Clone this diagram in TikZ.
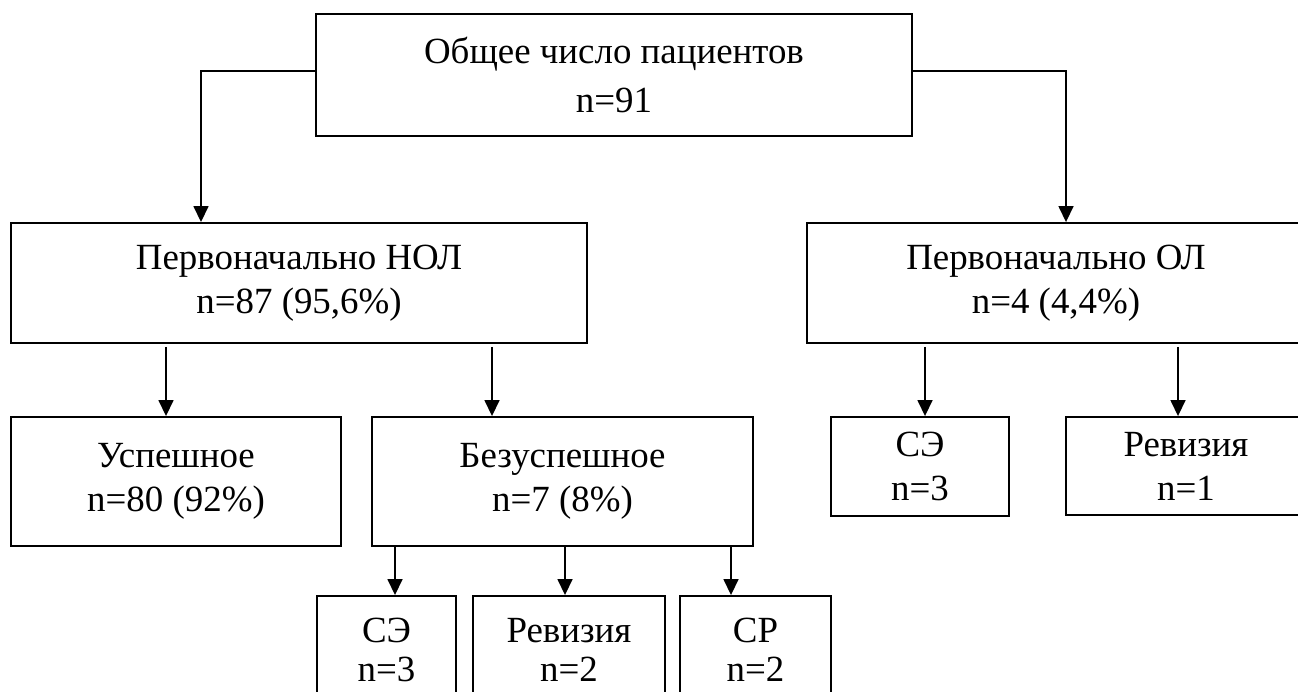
\documentclass[tikz,border=0pt]{standalone}
\usepackage{fontspec}
\setmainfont{Liberation Serif}
\usepackage{tikz}
\usetikzlibrary{arrows.meta,calc}

\begin{document}
\begin{tikzpicture}[x=0.02cm, y=-0.02cm, font=\fontsize{21}{25}\selectfont,
    >={Triangle[length=0.32cm,width=0.3cm]},
    box/.style={draw, line width=1.1pt, align=center, inner sep=0pt},
    arr/.style={->, line width=0.9pt}]
    \useasboundingbox (0,0) rectangle (1298,691);
    % top level
    \node[box, minimum width=11.92cm, minimum height=2.44cm] (total) at (614,75)
      {Общее число пациентов\\[3pt] n=91};
    \node[box, minimum width=11.52cm, minimum height=2.40cm] (nol) at (299,283)
      {Первоначально НОЛ\\ n=87 (95,6\%)};
    \node[box, minimum width=9.96cm, minimum height=2.40cm] (ol) at (1056,283)
      {Первоначально ОЛ\\ n=4 (4,4\%)};
    % outcomes
    \node[box, minimum width=6.60cm, minimum height=2.58cm] (usp) at (176,481.5)
      {Успешное\\ n=80 (92\%)};
    \node[box, minimum width=7.62cm, minimum height=2.58cm] (bez) at (562.5,481.5)
      {Безуспешное\\ n=7 (8\%)};
    \node[box, minimum width=3.56cm, minimum height=1.98cm] (se2) at (920,466.5)
      {СЭ\\ n=3};
    \node[box, minimum width=4.80cm, minimum height=1.96cm] (rev2) at (1186,466)
      {Ревизия\\ n=1};
    % after failure
    \node[box, minimum width=2.78cm, minimum height=2.16cm] (se1) at (386.5,650)
      {СЭ\\[-3pt] n=3};
    \node[box, minimum width=3.84cm, minimum height=2.16cm] (rev1) at (569,650)
      {Ревизия\\[-3pt] n=2};
    \node[box, minimum width=3.02cm, minimum height=2.16cm] (sr) at (755.5,650)
      {СР\\[-3pt] n=2};

    \draw[arr] ($(total.west)+(0,-4)$) -| ($(nol.north)+(-98,0)$);
    \draw[arr] ($(total.east)+(0,-4)$) -| ($(ol.north)+(10,0)$);
    \draw[arr, shorten <=0.06cm] ($(nol.south)+(-133,0)$) -- ($(usp.north)+(-10,0)$);
    \draw[arr, shorten <=0.06cm] ($(nol.south)+(193,0)$) -- ($(bez.north)+(-70.5,0)$);
    \draw[arr, shorten <=0.06cm] ($(ol.south)+(-131,0)$) -- ($(se2.north)+(5,0)$);
    \draw[arr, shorten <=0.06cm] ($(ol.south)+(122,0)$) -- ($(rev2.north)+(-8,0)$);
    \draw[arr] ($(bez.south)+(-167.5,0)$) -- ($(se1.north)+(8.5,0)$);
    \draw[arr] ($(bez.south)+(2.5,0)$) -- ($(rev1.north)+(-4,0)$);
    \draw[arr] ($(bez.south)+(168.5,0)$) -- ($(sr.north)+(-24.5,0)$);
\end{tikzpicture}
\end{document}
